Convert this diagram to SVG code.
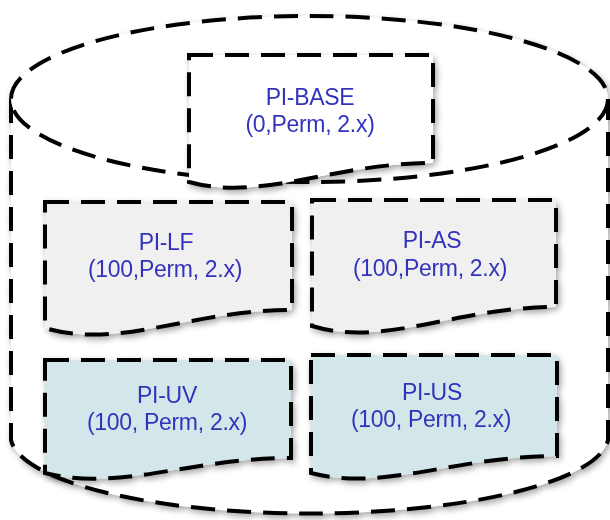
<svg xmlns="http://www.w3.org/2000/svg" width="610" height="520" viewBox="0 0 610 520">
<style>
.dash{stroke:#000;stroke-width:4;stroke-dasharray:24 12;stroke-linejoin:miter}
.lbl{font-family:"Liberation Sans",Arial,sans-serif;font-size:23px;fill:#3333bb;text-anchor:middle;letter-spacing:-0.3px}
.gray{fill:#f0f0f0}
.blue{fill:#d3e7eb}
</style>
<defs>
<filter id="sh" x="-10%" y="-10%" width="125%" height="130%">
<feGaussianBlur in="SourceAlpha" stdDeviation="3"/>
<feOffset dx="2" dy="3" result="b"/>
<feComponentTransfer><feFuncA type="linear" slope="0.35"/></feComponentTransfer>
<feMerge><feMergeNode/><feMergeNode in="SourceGraphic"/></feMerge>
</filter>
</defs>
<rect width="610" height="520" fill="#fff"/>
<g id="cylinder" filter="url(#sh)">
<path d="M11,99 V440 A299,78 0 0 0 608,440 V99" fill="#fff" class="dash"/>
<ellipse cx="309.5" cy="99" rx="298.5" ry="83" fill="#fff" class="dash"/>
</g>
<g id="pi-base" filter="url(#sh)">
<path d="M189,55 H433 V163 C332,163 262,202 189,182 Z" fill="#fff" class="dash"/>
<text class="lbl" x="310" y="105">PI-BASE</text>
<text class="lbl" x="310" y="132">(0,Perm, 2.x)</text>
</g>
<g id="pi-lf" filter="url(#sh)">
<path d="M45,202 H292 V310 C190,310 120,350 45,328 Z" class="gray dash"/>
<text class="lbl" x="166" y="250">PI-LF</text>
<text class="lbl" x="165" y="277">(100,Perm, 2.x)</text>
</g>
<g id="pi-as" filter="url(#sh)">
<path d="M312,200 H556 V307 C455,307 385,348 312,326 Z" class="gray dash"/>
<text class="lbl" x="432" y="248">PI-AS</text>
<text class="lbl" x="430" y="276">(100,Perm, 2.x)</text>
</g>
<g id="pi-uv" filter="url(#sh)">
<path d="M45,360 H291 V458 C190,458 120,492 45,473 Z" class="blue dash"/>
<text class="lbl" x="167" y="403">PI-UV</text>
<text class="lbl" x="167" y="430">(100, Perm, 2.x)</text>
</g>
<g id="pi-us" filter="url(#sh)">
<path d="M311,355 H557 V456 C455,456 385,492 311,473 Z" class="blue dash"/>
<text class="lbl" x="432" y="400">PI-US</text>
<text class="lbl" x="431" y="427">(100, Perm, 2.x)</text>
</g>
<g id="connectors"/>
</svg>
